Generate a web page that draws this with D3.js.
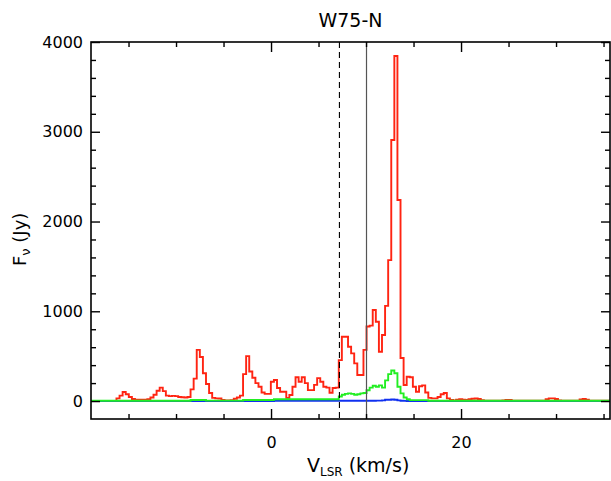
<!DOCTYPE html>
<html><head><meta charset="utf-8">
<script src="https://cdn.jsdelivr.net/npm/d3@7/dist/d3.min.js"></script>
<style>
body{margin:0;background:#fff;}
svg{display:block;}
text{font-family:"DejaVu Sans","Liberation Sans",sans-serif;fill:#000;}
</style>
</head><body>
<svg id="chart" width="611" height="481"></svg>
<script>
// ---------------- data ----------------
const title = "W75-N";
const vStart = -19.52;   // left edge of first channel (km/s)
const vStep = 0.325;     // channel width (km/s)

const redFlux = [
  0,0,0,0,0,0,0,0,0,0,
  30,60,100,75,45,22,15,15,15,15,
  20,40,70,115,150,110,60,55,58,55,
  45,42,40,45,130,250,570,490,310,190,
  90,35,30,28,12,8,8,10,25,40,
  60,300,500,330,260,200,160,95,80,80,
  215,235,145,104,104,35,67,160,265,215,
  265,200,122,122,180,255,215,160,150,92,
  145,150,456,716,716,605,531,420,290,290,
  570,830,840,1014,884,550,735,1060,1570,2908,
  3844,2240,480,178,270,265,160,104,165,175,
  95,35,30,30,45,75,90,30,12,8,
  15,20,15,12,20,25,28,22,10,5,
  3,3,3,3,5,8,12,12,5,3,
  3,3,3,3,3,3,3,3,3,20,
  30,30,22,8,3,3,3,3,3,3,
  18,22,15,3,3,3,3,3,3,3,
  3,3
];
const greenFlux = [
  3,3,3,3,3,3,3,3,3,3,
  3,3,3,3,3,3,3,3,3,3,
  3,3,3,3,3,3,3,3,3,3,
  3,3,3,3,12,12,12,12,12,5,
  5,5,5,5,5,5,5,5,5,5,
  5,12,12,12,12,12,12,12,12,12,
  12,20,20,20,20,20,20,20,20,20,
  20,20,20,20,20,20,20,20,20,20,
  20,20,50,70,80,85,80,70,75,85,
  90,120,150,170,160,175,150,230,300,340,
  310,160,85,40,20,10,10,10,10,10,
  10,4,4,4,4,4,4,4,4,4,
  4,4,4,4,4,4,4,4,4,4,
  4,4,4,4,4,4,4,4,4,4,
  4,4,4,4,4,4,4,4,4,4,
  4,4,4,4,4,4,4,4,4,4,
  4,4,4,4,4,4,4,4,4,4,
  4,4
];
const blueFlux = [
  0,0,0,0,0,0,0,0,0,0,
  0,0,0,0,0,0,0,0,0,0,
  0,0,0,0,0,0,0,0,0,0,
  0,0,0,0,0,0,0,0,0,0,
  0,0,0,0,0,0,0,0,0,0,
  0,0,0,0,0,0,0,0,0,0,
  0,2,2,2,2,2,2,2,2,2,
  2,2,2,2,2,2,2,2,2,2,
  3,3,3,3,3,3,3,3,3,3,
  3,3,3,3,5,5,8,15,15,18,
  15,8,3,2,0,0,0,0,0,0,
  0,0,0,0,0,0,0,0,0,0,
  0,0,0,0,0,0,0,0,0,0,
  0,0,0,0,0,0,0,0,0,0,
  0,0,0,0,0,0,0,0,0,0,
  0,0,0,0,0,0,0,0,0,0,
  0,0,0,0,0,0,0,0,0,0,
  0,0
];
const xMajorTicks = [0, 20];
const xMinorTicks = [-15, -10, -5, 5, 10, 15, 25, 30, 35];
const yMajorTicks = [0, 1000, 2000, 3000, 4000];
const yMinorTicks = [200,400,600,800,1200,1400,1600,1800,2200,2400,2600,2800,3200,3400,3600,3800];
const dashedLineV = 7.2;
const solidLineV = 10.05;
const xDomain = [-18.95, 35.68];
const yDomain = [-200, 4000];

// ---------------- layout ----------------
const svg = d3.select("#chart");
const L = 91, R = 610, T = 42, B = 419;
const x = d3.scaleLinear().domain(xDomain).range([L, R]);
const y = d3.scaleLinear().domain(yDomain).range([B, T]);

svg.append("defs").append("clipPath").attr("id","clip")
  .append("rect").attr("x",L).attr("y",T).attr("width",R-L).attr("height",B-T);

const plot = svg.append("g").attr("clip-path","url(#clip)");

const chans = redFlux.map((d,i)=>vStart + vStep*(i+0.5));
const line = d3.line().x(d=>x(d[0])).y(d=>y(d[1])).curve(d3.curveStep);

function series(vals, color){
  plot.append("path")
    .datum(vals.map((v,i)=>[chans[i], v]))
    .attr("d", line)
    .attr("fill","none")
    .attr("stroke",color)
    .attr("stroke-width",1.9)
    .attr("stroke-linejoin","miter");
}
series(redFlux, "#ff2412");
series(blueFlux, "#1030f0");
series(greenFlux, "#22ee22");

// reference lines
plot.append("line").attr("x1",x(dashedLineV)).attr("x2",x(dashedLineV))
  .attr("y1",T).attr("y2",B).attr("stroke","#000").attr("stroke-width",1.1)
  .attr("stroke-dasharray","6,4");
plot.append("line").attr("x1",x(solidLineV)).attr("x2",x(solidLineV))
  .attr("y1",T).attr("y2",B).attr("stroke","#555").attr("stroke-width",1.2);

// axes
function styleAxis(g){
  g.select(".domain").remove();
  g.selectAll(".tick line").attr("stroke","#000").attr("stroke-width",1.4);
  g.selectAll(".tick text").attr("font-size","16px").attr("font-family","DejaVu Sans, sans-serif");
}
// bottom
svg.append("g").attr("transform",`translate(0,${B})`)
  .call(d3.axisBottom(x).tickValues(xMajorTicks).tickSize(-10).tickPadding(18).tickFormat(d3.format("d")))
  .call(styleAxis);
svg.append("g").attr("transform",`translate(0,${B})`)
  .call(d3.axisBottom(x).tickValues(xMinorTicks).tickSize(-5).tickFormat(""))
  .call(styleAxis);
// top
svg.append("g").attr("transform",`translate(0,${T})`)
  .call(d3.axisTop(x).tickValues(xMajorTicks).tickSize(-10).tickFormat(""))
  .call(styleAxis);
svg.append("g").attr("transform",`translate(0,${T})`)
  .call(d3.axisTop(x).tickValues(xMinorTicks).tickSize(-5).tickFormat(""))
  .call(styleAxis);
// left
svg.append("g").attr("transform",`translate(${L},0)`)
  .call(d3.axisLeft(y).tickValues(yMajorTicks).tickSize(-9).tickPadding(8).tickFormat(d3.format("d")))
  .call(styleAxis);
svg.append("g").attr("transform",`translate(${L},0)`)
  .call(d3.axisLeft(y).tickValues(yMinorTicks).tickSize(-5).tickFormat(""))
  .call(styleAxis);
// right
svg.append("g").attr("transform",`translate(${R},0)`)
  .call(d3.axisRight(y).tickValues(yMajorTicks).tickSize(-9).tickFormat(""))
  .call(styleAxis);
svg.append("g").attr("transform",`translate(${R},0)`)
  .call(d3.axisRight(y).tickValues(yMinorTicks).tickSize(-5).tickFormat(""))
  .call(styleAxis);

// frame
svg.append("rect").attr("x",L).attr("y",T).attr("width",R-L).attr("height",B-T)
  .attr("fill","none").attr("stroke","#000").attr("stroke-width",1.6);

// titles
svg.append("text").attr("x",(L+R)/2).attr("y",27).attr("text-anchor","middle")
  .attr("font-size","19px").text(title);

const xt = svg.append("text").attr("x",307).attr("y",472).attr("font-size","19px");
xt.append("tspan").text("V");
xt.append("tspan").attr("font-size","12px").attr("dy",4).text("LSR");
xt.append("tspan").attr("dy",-4).text(" (km/s)");

const yt = svg.append("text").attr("transform","translate(26,266) rotate(-90)").attr("font-size","18px");
yt.append("tspan").text("F");
yt.append("tspan").attr("font-size","13px").attr("dy",4).text("ν");
yt.append("tspan").attr("dy",-4).text(" (Jy)");
</script>
</body></html>
